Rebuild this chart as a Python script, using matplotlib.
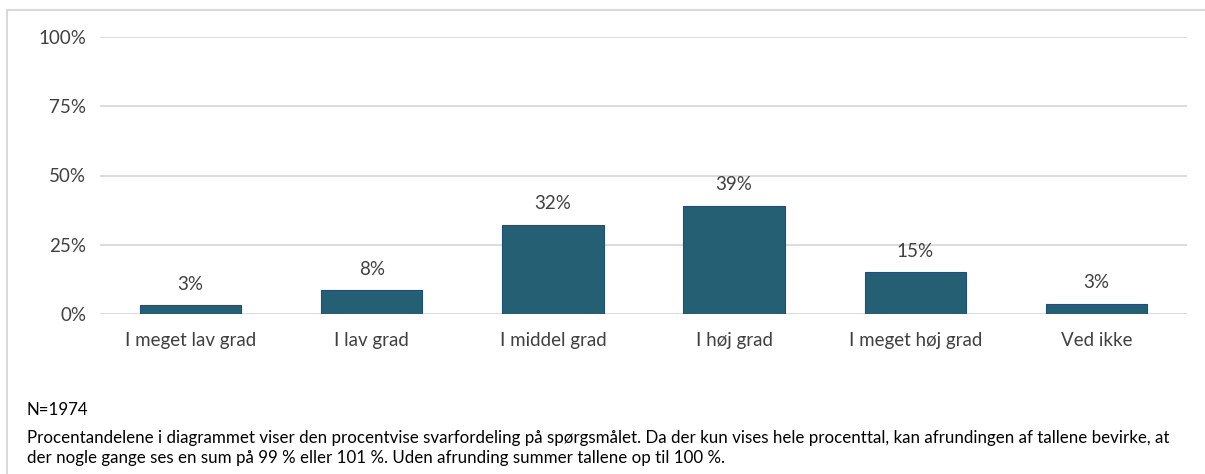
import matplotlib.pyplot as plt
from matplotlib.lines import Line2D

categories = ['I meget lav grad', 'I lav grad', 'I middel grad', 'I høj grad',
              'I meget høj grad', 'Ved ikke']
values = [3.1, 8.6, 32.3, 39.0, 15.0, 3.7]
labels = ['3%', '8%', '32%', '39%', '15%', '3%']
yticks = [0, 25, 50, 75, 100]
note_n = 'N=1974'
note_text = ('Procentandelene i diagrammet viser den procentvise svarfordeling på spørgsmålet. '
             'Da der kun vises hele procenttal, kan afrundingen af tallene bevirke, at\n'
             'der nogle gange ses en sum på 99 % eller 101 %. Uden afrunding summer tallene op til 100 %.')

plt.rcParams['font.family'] = ['Lato', 'DejaVu Sans']
text_col = '#404040'
bar_col = '#245F73'

fig = plt.figure(figsize=(12.05, 4.74), dpi=100)
ax = fig.add_axes([100 / 1205, 1 - 314 / 474, 1087 / 1205, 277 / 474])

x = range(len(categories))
bars = ax.bar(x, values, width=0.56, color=bar_col, edgecolor='#1F4E79', linewidth=0.8, zorder=3)
for b, lab in zip(bars, labels):
    ax.annotate(lab, (b.get_x() + b.get_width() / 2, b.get_height()),
                xytext=(0, 9), textcoords='offset points', ha='center', va='bottom',
                fontsize=13.5, color=text_col)

ax.set_ylim(0, 100)
ax.set_xlim(-0.5, len(categories) - 0.5)
ax.set_yticks(yticks)
ax.set_yticklabels([f'{t}%' for t in yticks])
ax.set_xticks(list(x))
ax.set_xticklabels(categories)
ax.tick_params(axis='both', length=0, labelsize=13.5, labelcolor=text_col)
ax.tick_params(axis='y', pad=10)
ax.tick_params(axis='x', pad=13)
ax.grid(axis='y', color='#D9D9D9', linewidth=1.3, zorder=0)
for s in ax.spines.values():
    s.set_visible(False)

fig.text(27 / 1205, 1 - 410 / 474, note_n, fontsize=12.2, color='black', va='center')
fig.text(27 / 1205, 1 - 448 / 474, note_text, fontsize=12.2, color='black', va='center',
         linespacing=1.3)

# frame around chart (top and left edges)
fig.add_artist(Line2D([7 / 1205, 1], [1 - 10 / 474, 1 - 10 / 474], color='#D9D9D9', lw=1.5))
fig.add_artist(Line2D([7 / 1205, 7 / 1205], [0, 1 - 10 / 474], color='#D9D9D9', lw=1.5))

fig.savefig('out.png', dpi=100)
